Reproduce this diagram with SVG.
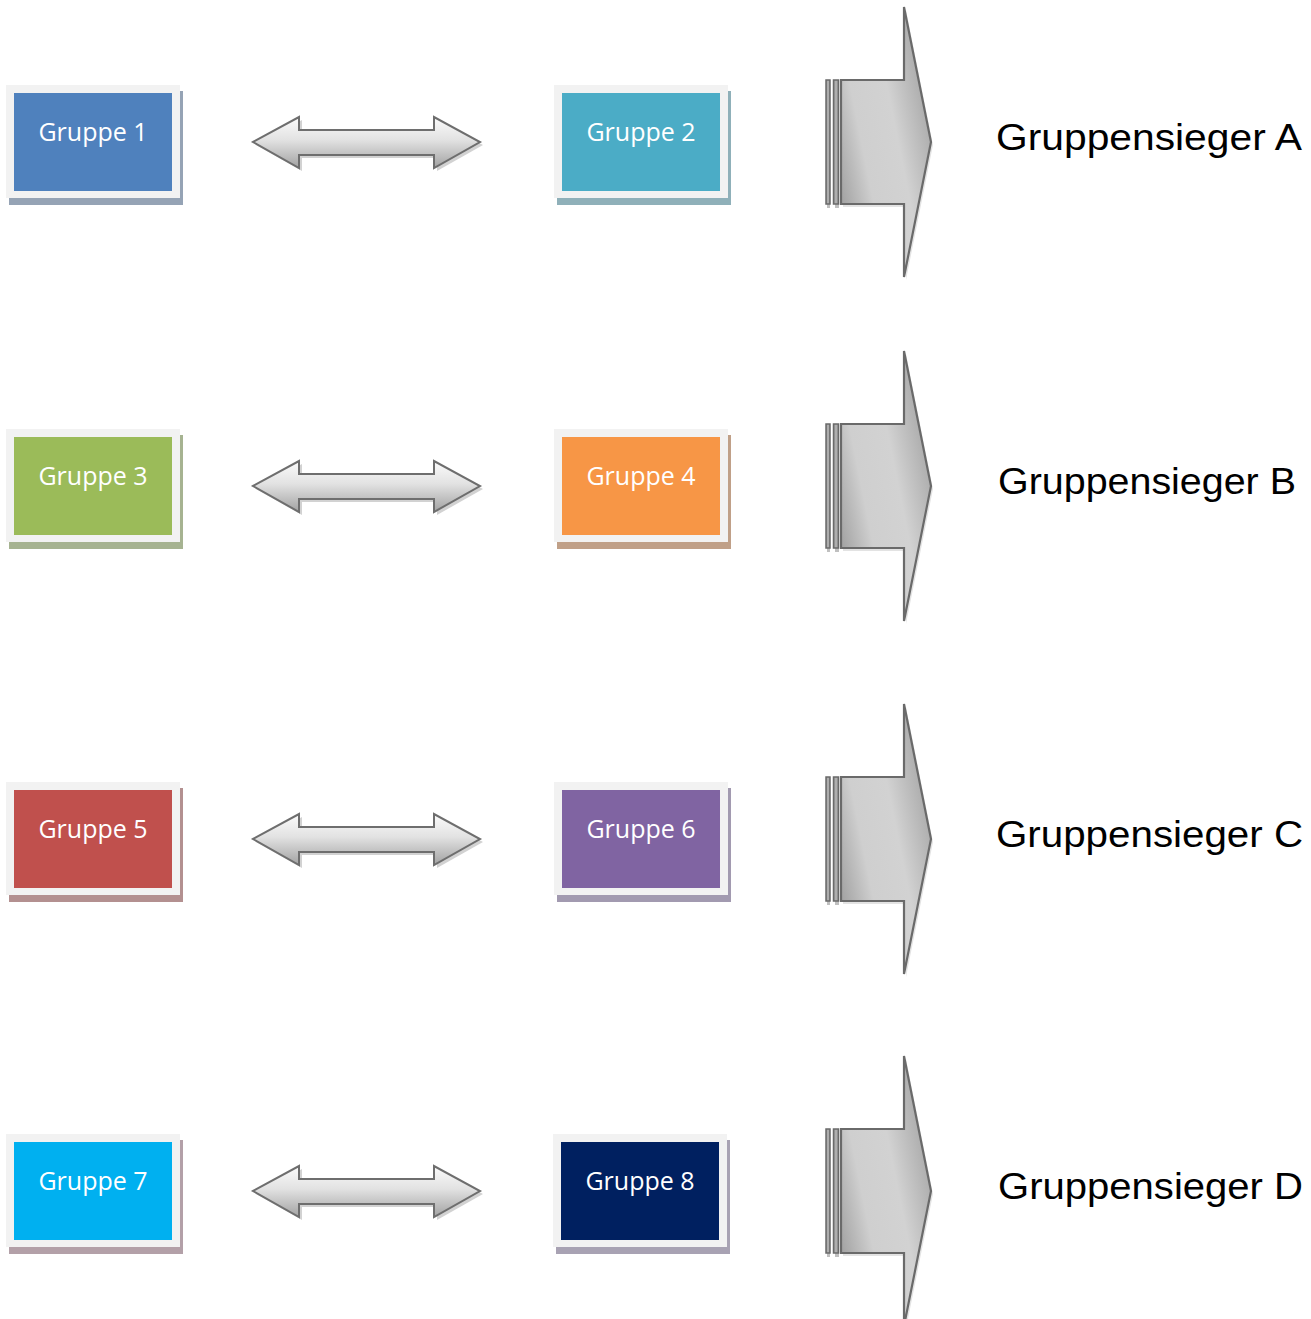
<svg xmlns="http://www.w3.org/2000/svg" width="1311" height="1319" viewBox="0 0 1311 1319">
<defs>
<linearGradient id="dg" x1="0" y1="0" x2="0" y2="1">
<stop offset="0" stop-color="#fbfbfb"/>
<stop offset="0.45" stop-color="#e2e2e2"/>
<stop offset="1" stop-color="#a2a2a2"/>
</linearGradient>
<linearGradient id="bg" x1="0" y1="0.8" x2="1" y2="0.2">
<stop offset="0" stop-color="#9c9c9c"/>
<stop offset="0.3" stop-color="#cfcfcf"/>
<stop offset="0.6" stop-color="#d2d2d2"/>
<stop offset="1" stop-color="#9e9e9e"/>
</linearGradient>
<linearGradient id="barg" x1="0" y1="0" x2="1" y2="0">
<stop offset="0" stop-color="#8a8a8a"/>
<stop offset="0.5" stop-color="#b8b8b8"/>
<stop offset="1" stop-color="#8a8a8a"/>
</linearGradient>
<g id="dbl">
<path d="M256,145 L302,120 L302,133 L437,133 L437,120 L483,145 L437,171 L437,158 L302,158 L302,171 Z" fill="#b4b4b4" opacity="0.6"/>
<path d="M253,142 L299,117 L299,130 L434,130 L434,117 L480,142 L434,168 L434,155 L299,155 L299,168 Z" fill="url(#dg)" stroke="#6e6e6e" stroke-width="2" stroke-linejoin="miter"/>
</g>
<g id="big">
<path d="M843,207 L906,207 L906,280 L933,145 L906,10 L906,83 L843,83 Z" fill="#c8c8c8" opacity="0.5"/>
<rect x="827" y="204" width="3" height="4" fill="#c0c0c0"/>
<rect x="835" y="204" width="4" height="4" fill="#c0c0c0"/>
<rect x="826" y="80" width="4" height="124" fill="url(#barg)" stroke="#6a6a6a" stroke-width="1.5"/>
<rect x="833.5" y="80" width="5" height="124" fill="url(#barg)" stroke="#6a6a6a" stroke-width="1.5"/>
<path d="M841,80 L904,80 L904,7 L931,142 L904,277 L904,204 L841,204 Z" fill="url(#bg)" stroke="#6a6a6a" stroke-width="2.2" stroke-linejoin="miter"/>
</g>
</defs>
<style>
.frame{fill:#f2f2f2}
.lbl{font-family:"Open Sans","Noto Sans",sans-serif;font-size:25px;fill:#ffffff;text-anchor:middle}
.win{font-family:"Liberation Sans","DejaVu Sans",sans-serif;font-size:37px;fill:#000000}
</style>

<g id="connectors">
<use href="#dbl"/>
<use href="#dbl" transform="translate(0,344)"/>
<use href="#dbl" transform="translate(0,697)"/>
<use href="#dbl" transform="translate(0,1049)"/>
<use href="#big"/>
<use href="#big" transform="translate(0,344)"/>
<use href="#big" transform="translate(0,697)"/>
<use href="#big" transform="translate(0,1049)"/>
</g>

<g id="gruppe1">
<rect x="9" y="91" width="174" height="114" fill="#95a3b5"/>
<rect class="frame" x="6" y="85" width="174" height="113"/>
<rect x="14" y="93" width="158" height="98" fill="#4f81bd"/>
<text class="lbl" x="93" y="141">Gruppe 1</text>
</g>
<g id="gruppe2">
<rect x="557" y="91" width="174" height="114" fill="#8fb0b9"/>
<rect class="frame" x="554" y="85" width="174" height="113"/>
<rect x="562" y="93" width="158" height="98" fill="#4bacc6"/>
<text class="lbl" x="641" y="141">Gruppe 2</text>
</g>
<g id="gruppe3" transform="translate(0,344)">
<rect x="9" y="91" width="174" height="114" fill="#a6b391"/>
<rect class="frame" x="6" y="85" width="174" height="113"/>
<rect x="14" y="93" width="158" height="98" fill="#9bbb59"/>
<text class="lbl" x="93" y="141">Gruppe 3</text>
</g>
<g id="gruppe4" transform="translate(0,344)">
<rect x="557" y="91" width="174" height="114" fill="#c0a088"/>
<rect class="frame" x="554" y="85" width="174" height="113"/>
<rect x="562" y="93" width="158" height="98" fill="#f79646"/>
<text class="lbl" x="641" y="141">Gruppe 4</text>
</g>
<g id="gruppe5" transform="translate(0,697)">
<rect x="9" y="91" width="174" height="114" fill="#b39090"/>
<rect class="frame" x="6" y="85" width="174" height="113"/>
<rect x="14" y="93" width="158" height="98" fill="#c0504d"/>
<text class="lbl" x="93" y="141">Gruppe 5</text>
</g>
<g id="gruppe6" transform="translate(0,697)">
<rect x="557" y="91" width="174" height="114" fill="#a29ab0"/>
<rect class="frame" x="554" y="85" width="174" height="113"/>
<rect x="562" y="93" width="158" height="98" fill="#8064a2"/>
<text class="lbl" x="641" y="141">Gruppe 6</text>
</g>
<g id="gruppe7" transform="translate(0,1049)">
<rect x="9" y="91" width="174" height="114" fill="#b3a0a8"/>
<rect class="frame" x="6" y="85" width="174" height="113"/>
<rect x="14" y="93" width="158" height="98" fill="#00b0f0"/>
<text class="lbl" x="93" y="141">Gruppe 7</text>
</g>
<g id="gruppe8" transform="translate(-1,1049)">
<rect x="557" y="91" width="174" height="114" fill="#a8a2b3"/>
<rect class="frame" x="554" y="85" width="174" height="113"/>
<rect x="562" y="93" width="158" height="98" fill="#002060"/>
<text class="lbl" x="641" y="141">Gruppe 8</text>
</g>

<g id="siegerA"><text class="win" x="996" y="150" textLength="306" lengthAdjust="spacingAndGlyphs">Gruppensieger A</text></g>
<g id="siegerB"><text class="win" x="998" y="494" textLength="298" lengthAdjust="spacingAndGlyphs">Gruppensieger B</text></g>
<g id="siegerC"><text class="win" x="996" y="847" textLength="307" lengthAdjust="spacingAndGlyphs">Gruppensieger C</text></g>
<g id="siegerD"><text class="win" x="998" y="1199" textLength="305" lengthAdjust="spacingAndGlyphs">Gruppensieger D</text></g>
</svg>
